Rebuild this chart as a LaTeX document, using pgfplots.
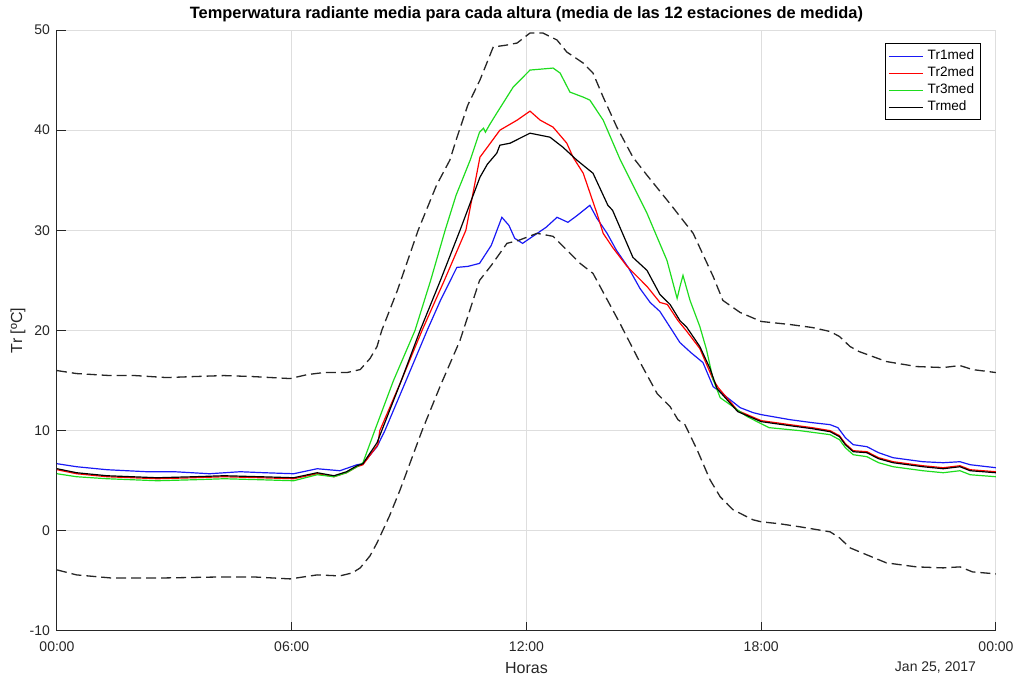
\documentclass[border=0pt]{standalone}
\usepackage{fontspec}
\setmainfont{Liberation Sans}
\usepackage{pgfplots}
\pgfplotsset{compat=1.18}
\definecolor{mgreen}{RGB}{30,220,30}
\definecolor{mblue}{RGB}{25,25,245}

% series: hours since 00:00, radiant temperature in degC
\pgfplotstableread{
h T
0 6.7
0.5 6.4
1.28 6.1
2.3 5.9
3.0 5.9
3.9 5.7
4.68 5.9
5.3 5.8
6.05 5.7
6.65 6.2
7.23 6.0
7.67 6.6
7.82 6.7
8.18 8.4
8.38 10
8.9 14.8
9.46 20
9.8 23
10.22 26.3
10.5 26.4
10.8 26.7
11.1 28.5
11.37 31.3
11.55 30.5
11.7 29.2
11.9 28.7
12.2 29.5
12.5 30.3
12.78 31.3
13.06 30.8
13.3 31.5
13.62 32.5
13.8 31.2
14.06 29.7
14.3 28
14.6 26.3
14.9 24.2
15.16 22.8
15.41 21.9
15.74 19.9
15.92 18.8
16.2 17.8
16.51 16.8
16.77 14.4
17.2 13.1
17.46 12.3
17.79 11.8
18.0 11.6
18.73 11.1
19.3 10.8
19.76 10.6
19.96 10.3
20.15 9.3
20.35 8.6
20.7 8.4
21.0 7.8
21.37 7.3
22.13 6.9
22.65 6.8
23.08 6.9
23.34 6.6
24 6.3
}\tabtrone

\pgfplotstableread{
h T
0 6.1
0.5 5.7
1.28 5.4
2.56 5.2
3.5 5.3
4.27 5.4
5.2 5.3
6.05 5.2
6.65 5.7
7.08 5.4
7.4 5.8
7.67 6.4
7.82 6.6
8.2 8.6
8.25 10
8.8 15
9.33 20
9.9 25
10.45 30
10.81 37.3
11.0 38.3
11.32 40
11.76 41
12.09 41.9
12.35 41
12.68 40.3
13.03 38.7
13.19 37.3
13.45 35.7
13.8 31.7
13.96 29.7
14.2 28.3
14.57 26.4
15.08 24.4
15.41 22.8
15.6 22.6
15.87 21
16.1 19.9
16.43 18.2
16.77 15.1
16.9 14.3
17.4 12.0
18.0 11.0
18.73 10.6
19.3 10.3
19.76 10.0
20.0 9.5
20.15 8.7
20.35 8.0
20.7 7.9
21.0 7.3
21.37 6.9
22.13 6.5
22.65 6.3
23.08 6.5
23.34 6.1
24 5.9
}\tabtrtwo

\pgfplotstableread{
h T
0 5.7
0.5 5.4
1.28 5.2
2.56 5.0
3.5 5.1
4.27 5.2
5.2 5.1
6.05 5.0
6.65 5.6
7.08 5.4
7.4 5.8
7.67 6.4
7.82 6.8
8.12 10
8.6 15
9.15 20
9.55 25
9.92 30
10.2 33.5
10.56 37
10.8 39.8
10.9 40.2
10.95 39.8
11.05 40.5
11.24 41.7
11.66 44.3
12.09 46
12.68 46.2
12.86 45.7
13.11 43.8
13.45 43.3
13.62 43
13.96 41
14.39 37.1
15.08 31.7
15.59 27
15.85 23.2
15.93 24.5
16.0 25.5
16.18 23
16.43 20.4
16.6 18.1
16.77 15.1
16.95 13.3
17.02 13.1
17.64 11.4
18.2 10.3
18.99 10.0
19.76 9.6
20.0 9.1
20.15 8.3
20.35 7.6
20.7 7.4
21.0 6.8
21.37 6.4
22.13 6.0
22.65 5.8
23.08 6.0
23.34 5.6
24 5.4
}\tabtrthree

\pgfplotstableread{
h T
0 6.2
0.5 5.8
1.28 5.5
2.56 5.3
3.5 5.4
4.27 5.5
5.2 5.4
6.05 5.3
6.65 5.8
7.08 5.5
7.4 5.9
7.67 6.5
7.82 6.7
8.18 8.8
8.3 10
8.8 15
9.28 20
9.8 25
10.3 30
10.81 35.3
11.0 36.6
11.24 37.7
11.32 38.5
11.58 38.7
12.09 39.7
12.6 39.3
12.93 38.3
13.29 37
13.7 35.7
14.08 32.5
14.2 32
14.72 27.3
15.08 26.0
15.41 23.6
15.67 22.6
15.92 21
16.1 20.3
16.43 18.4
16.69 16.2
16.87 14.2
17.4 11.9
18.0 10.9
18.73 10.5
19.3 10.2
19.76 9.9
20.0 9.4
20.15 8.6
20.35 7.9
20.7 7.8
21.0 7.2
21.37 6.8
22.13 6.4
22.65 6.2
23.08 6.4
23.34 6.0
24 5.8
}\tabtrmed

\pgfplotstableread{
h T
0 16.0
0.5 15.7
1.36 15.5
2.0 15.5
2.8 15.3
3.5 15.4
4.27 15.5
5.0 15.4
5.96 15.2
6.4 15.6
6.82 15.8
7.41 15.8
7.75 16.1
8.0 17.2
8.18 18.4
8.3 20
8.7 24
9.23 30
9.7 34.5
10.04 37
10.2 39
10.5 42.5
10.81 45
11.15 48.3
11.5 48.5
11.76 48.7
12.09 49.7
12.42 49.7
12.78 49
13.03 47.8
13.45 46.7
13.7 45.7
13.96 43.3
14.31 40.3
14.72 37.3
15.08 35.5
15.7 32.5
16.26 29.7
16.77 25.4
17.02 23
17.46 21.8
18.0 20.9
18.73 20.6
19.3 20.3
19.76 19.9
20.0 19.4
20.27 18.4
20.5 17.9
21.2 16.9
21.97 16.4
22.65 16.3
23.08 16.5
23.4 16.1
24 15.8
}\tabupper

\pgfplotstableread{
h T
0 -3.9
0.5 -4.4
1.36 -4.7
2.8 -4.7
4.27 -4.6
5.0 -4.6
5.96 -4.8
6.65 -4.4
7.23 -4.5
7.55 -4.2
7.75 -3.7
8.0 -2.5
8.18 -1.2
8.5 1.5
8.77 4.1
9.33 10
9.8 14.5
10.3 19
10.8 25
11.1 26.5
11.5 28.7
11.8 29
12.27 29.7
12.68 29.4
12.86 28.7
13.37 26.7
13.7 25.7
13.88 24.4
14.39 20.7
14.85 17.2
15.34 13.7
15.67 12.4
15.87 11.1
16.05 10.6
16.36 8.1
16.69 5.1
16.95 3.4
17.28 2.1
17.79 1.1
18.0 0.9
18.48 0.7
18.99 0.4
19.76 -0.1
20.0 -0.7
20.27 -1.7
20.7 -2.4
21.2 -3.2
21.97 -3.6
22.65 -3.7
23.08 -3.6
23.4 -4.1
24 -4.3
}\tablower

\begin{document}
\begin{tikzpicture}
\begin{axis}[
    scale only axis,
    width=469.5pt, height=300.5pt,
    xmin=0, xmax=24, ymin=-10, ymax=50,
    axis x line*=bottom, axis y line*=left,
    axis line style={-, black!85, line width=0.5pt},
    xtick={0,6,12,18,24},
    xticklabels={00:00,06:00,12:00,18:00,00:00},
    ytick={-10,0,...,50},
    tick align=inside,
    major tick length=4.5pt,
    tick style={black!85, line width=0.5pt},
    /pgf/number format/assume math mode=true,
    ticklabel style={font=\fontsize{7}{8}\selectfont, text=black!85},
    xticklabel style={yshift=-2pt},
    grid=major,
    major grid style={black!13, line width=0.5pt},
    every axis title shift=0pt,
    title={Temperwatura radiante media para cada altura (media de las 12 estaciones de medida)},
    title style={at={(axis description cs:0.5,1)}, anchor=center, yshift=8pt,
      font=\fontsize{8.2}{9}\selectfont\bfseries},
    xlabel={Horas},
    xlabel style={at={(axis description cs:0.5,-0.0616)}, anchor=center,
      font=\fontsize{8}{9}\selectfont, text=black!85},
    ylabel={Tr [ºC]},
    ylabel style={at={(axis description cs:-0.0415,0.5)}, anchor=center,
      font=\fontsize{8}{9}\selectfont, text=black!85},
    legend style={at={(0.984,0.978)}, anchor=north east, draw=black,
      fill=white, font=\fontsize{6.8}{8}\selectfont, line width=0.5pt,
      inner sep=1.2pt, row sep=-2pt},
    legend cell align=left,
    legend image post style={line width=0.6pt},
  ]
  \addplot[mblue, line width=0.6pt] table {\tabtrone};
  \addlegendentry{Tr1med}
  \addplot[red, line width=0.6pt] table {\tabtrtwo};
  \addlegendentry{Tr2med}
  \addplot[mgreen, line width=0.6pt] table {\tabtrthree};
  \addlegendentry{Tr3med}
  \addplot[black, line width=0.6pt] table {\tabtrmed};
  \addlegendentry{Trmed}
  \addplot[black!85, line width=0.65pt, dash pattern=on 5pt off 2.5pt, forget plot] table {\tabupper};
  \addplot[black!85, line width=0.65pt, dash pattern=on 5pt off 2.5pt, forget plot] table {\tablower};
  \coordinate (sw) at (rel axis cs:0,0);
\end{axis}
\node[anchor=east, font=\fontsize{7}{8}\selectfont, text=black!85]
  at ([shift={(463pt,-18.2pt)}]sw) {Jan 25, 2017};
\pgfresetboundingbox
\path[use as bounding box] ([shift={(-28.5pt,-26.5pt)}]sw) rectangle ++(509.5pt,342pt);
\end{tikzpicture}
\end{document}
